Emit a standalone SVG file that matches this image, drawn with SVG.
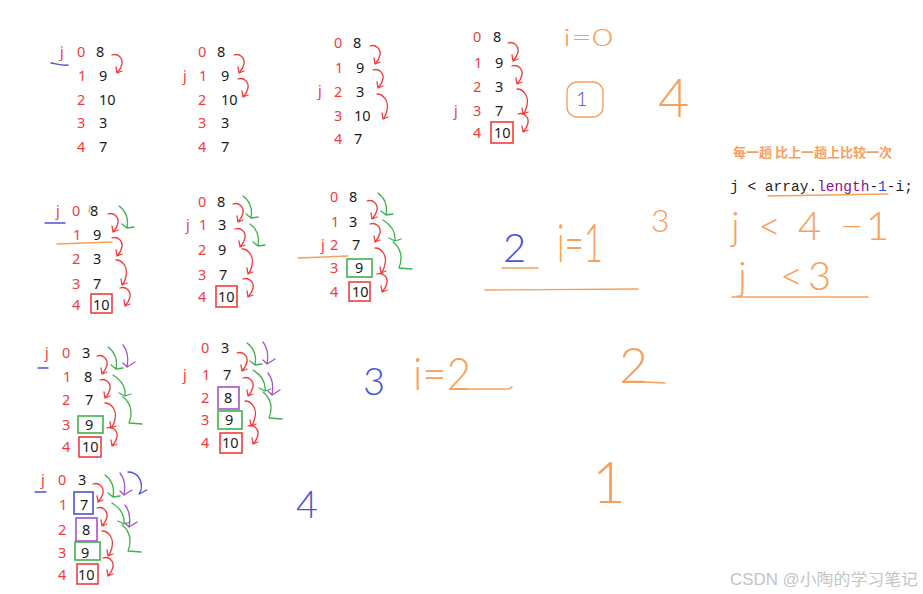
<svg xmlns="http://www.w3.org/2000/svg" xmlns:xlink="http://www.w3.org/1999/xlink" width="923" height="594" viewBox="0 0 923 594">
<style>
.i{font-family:"Noto Sans","Open Sans",sans-serif;font-size:14.5px;fill:#f03c3c}
.v{font-family:"Noto Sans","Open Sans",sans-serif;font-size:14.5px;fill:#1a1a1a}
.a{fill:none;stroke-width:1.3;stroke-linecap:round;stroke-linejoin:round}
.red{stroke:#f03c3c}.grn{stroke:#3db24c}.pur{stroke:#a552c8}.blu{stroke:#4b52d6}.org{stroke:#f8a05a}
.bx{fill:none;stroke-width:1.6}
.hw{font-family:Lato,"Noto Sans",sans-serif;font-weight:300;fill:#f8a05a}
.hb{font-family:Lato,"Noto Sans",sans-serif;font-weight:300;fill:#4b52d6}
.ln{fill:none;stroke-width:1.4;stroke-linecap:round}
</style>
<defs>
<path id="r" d="M0,0 C6,-2 11,3 10,9 C9,14 7,16 5,18 M5,18 L4,12 M5,18 L10,16"/>
<path id="r2" d="M0,0 C7,0 12,8 10,16 C9,21 8,23 6,25 M6,25 L5,19 M6,25 L11,23"/>
<path id="g" d="M0,0 C6,4 10,12 8,22 M8,22 L3,18 M8,22 L15,21"/>
<path id="G" d="M0,0 C8,5 13,12 12,21 M12,21 L6,18 M12,21 L18,19 M10,22 C18,28 20,38 16,48 L29,49"/>
<path id="p" d="M0,0 C4,5 6,12 4,22 M4,22 L0,18 M4,22 L12,17"/>
<path id="b" d="M0,0 C9,0 15,8 13,18 L11,22 M11,22 L19,18"/>
</defs>

<g id="blockA">
<text class="i" x="60" y="57">j</text>
<text class="i" x="77" y="57">0</text><text class="v" x="96" y="57">8</text>
<text class="i" x="78" y="81">1</text><text class="v" x="99" y="81">9</text>
<text class="i" x="77" y="105">2</text><text class="v" x="99" y="105">10</text>
<text class="i" x="77" y="128">3</text><text class="v" x="99" y="128">3</text>
<text class="i" x="77" y="152">4</text><text class="v" x="99" y="152">7</text>
<path class="ln blu" d="M51,63 C57,64 63,66 68,65"/>
</g>
<g id="blockB">
<text class="i" x="183" y="81">j</text>
<text class="i" x="198" y="57">0</text><text class="v" x="217" y="57">8</text>
<text class="i" x="199" y="81">1</text><text class="v" x="221" y="81">9</text>
<text class="i" x="198" y="105">2</text><text class="v" x="221" y="105">10</text>
<text class="i" x="198" y="128">3</text><text class="v" x="221" y="128">3</text>
<text class="i" x="198" y="152">4</text><text class="v" x="221" y="152">7</text>
</g>
<g id="blockC">
<text class="i" x="318" y="96">j</text>
<text class="i" x="334" y="48">0</text><text class="v" x="353" y="48">8</text>
<text class="i" x="335" y="73">1</text><text class="v" x="356" y="73">9</text>
<text class="i" x="334" y="97">2</text><text class="v" x="356" y="97">3</text>
<text class="i" x="334" y="121">3</text><text class="v" x="354" y="121">10</text>
<text class="i" x="334" y="144">4</text><text class="v" x="354" y="144">7</text>
</g>
<g id="blockD">
<text class="i" x="454" y="116">j</text>
<text class="i" x="473" y="42">0</text><text class="v" x="493" y="42">8</text>
<text class="i" x="474" y="68">1</text><text class="v" x="495" y="68">9</text>
<text class="i" x="473" y="92">2</text><text class="v" x="495" y="92">3</text>
<text class="i" x="473" y="116">3</text><text class="v" x="495" y="116">7</text>
<text class="i" x="473" y="138">4</text><text class="v" x="494" y="138">10</text>
<rect class="bx red" x="491" y="122" width="22" height="21"/>
</g>

<g id="blockE">
<text class="i" x="56" y="216">j</text>
<text class="i" x="72" y="216">0</text><text class="v" x="90" y="216">8</text>
<text class="i" x="73" y="240">1</text><text class="v" x="93" y="240">9</text>
<text class="i" x="72" y="264">2</text><text class="v" x="93" y="264">3</text>
<text class="i" x="72" y="289">3</text><text class="v" x="93" y="289">7</text>
<text class="i" x="72" y="310">4</text><text class="v" x="93" y="310">10</text>
<rect class="bx red" x="91" y="294" width="21" height="19"/>
<path class="ln blu" d="M45,223 L65,223"/>
<path class="ln org" d="M57,244 L112,242"/>
<path class="ln org" d="M90,206 L89,212"/>
</g>
<g id="blockF">
<text class="i" x="186" y="230">j</text>
<text class="i" x="198" y="207">0</text><text class="v" x="217" y="207">8</text>
<text class="i" x="199" y="230">1</text><text class="v" x="218" y="230">3</text>
<text class="i" x="198" y="255">2</text><text class="v" x="218" y="255">9</text>
<text class="i" x="198" y="280">3</text><text class="v" x="219" y="280">7</text>
<text class="i" x="198" y="302">4</text><text class="v" x="218" y="302">10</text>
<rect class="bx red" x="216" y="286" width="21" height="21"/>
</g>
<g id="blockG">
<text class="i" x="330" y="202">0</text><text class="v" x="349" y="202">8</text>
<text class="i" x="331" y="227">1</text><text class="v" x="349" y="227">3</text>
<text class="i" x="321" y="250">j</text><text class="i" x="330" y="250">2</text><text class="v" x="352" y="250">7</text>
<text class="i" x="330" y="273">3</text><text class="v" x="355" y="273">9</text>
<text class="i" x="330" y="297">4</text><text class="v" x="352" y="297">10</text>
<rect class="bx grn" x="347" y="259" width="25" height="18"/>
<rect class="bx red" x="349" y="282" width="21" height="19"/>
<path class="ln org" d="M298,258 L348,256"/>
</g>

<g id="blockH">
<text class="i" x="45" y="358">j</text>
<text class="i" x="62" y="358">0</text><text class="v" x="82" y="358">3</text>
<text class="i" x="63" y="382">1</text><text class="v" x="84" y="382">8</text>
<text class="i" x="62" y="405">2</text><text class="v" x="85" y="405">7</text>
<text class="i" x="62" y="430">3</text><text class="v" x="85" y="430">9</text>
<text class="i" x="62" y="452">4</text><text class="v" x="82" y="452">10</text>
<rect class="bx grn" x="78" y="416" width="25" height="17"/>
<rect class="bx red" x="79" y="437" width="22" height="20"/>
<path class="ln blu" d="M38,368 L48,368"/>
</g>
<g id="blockI">
<text class="i" x="183" y="380">j</text>
<text class="i" x="201" y="353">0</text><text class="v" x="221" y="353">3</text>
<text class="i" x="202" y="380">1</text><text class="v" x="223" y="380">7</text>
<text class="i" x="201" y="403">2</text><text class="v" x="224" y="403">8</text>
<text class="i" x="201" y="425">3</text><text class="v" x="225" y="425">9</text>
<text class="i" x="201" y="448">4</text><text class="v" x="222" y="448">10</text>
<rect class="bx pur" x="218" y="387" width="21" height="22"/>
<rect class="bx grn" x="218" y="411" width="24" height="18"/>
<rect class="bx red" x="220" y="433" width="22" height="20"/>
</g>
<g id="blockJ">
<text class="i" x="41" y="485">j</text>
<text class="i" x="58" y="485">0</text><text class="v" x="78" y="485">3</text>
<text class="i" x="59" y="510">1</text><text class="v" x="80" y="510">7</text>
<text class="i" x="58" y="535">2</text><text class="v" x="82" y="535">8</text>
<text class="i" x="58" y="558">3</text><text class="v" x="81" y="558">9</text>
<text class="i" x="58" y="580">4</text><text class="v" x="78" y="580">10</text>
<rect class="bx blu" x="74" y="492" width="19" height="22"/>
<rect class="bx pur" x="76" y="518" width="21" height="23"/>
<rect class="bx grn" x="75" y="542" width="25" height="18"/>
<rect class="bx red" x="77" y="564" width="21" height="20"/>
<path class="ln blu" d="M35,492 L46,492"/>
</g>

<g id="connectors">
<use href="#r" class="a red" x="112" y="55"/>
<use href="#r" class="a red" x="234" y="55"/>
<use href="#r" class="a red" x="238" y="79"/>
<use href="#r" class="a red" x="370" y="46"/>
<use href="#r" class="a red" x="373" y="70"/>
<use href="#r2" class="a red" x="377" y="94"/>
<use href="#r" class="a red" x="508" y="43"/>
<use href="#r" class="a red" x="512" y="66"/>
<use href="#r2" class="a red" x="517" y="89"/>
<use href="#r" class="a red" x="518" y="114"/>

<use href="#r" class="a red" x="108" y="214"/>
<use href="#r" class="a red" x="112" y="238"/>
<use href="#r2" class="a red" x="116" y="260"/>
<use href="#r" class="a red" x="120" y="288"/>
<use href="#g" class="a grn" x="119" y="206"/>

<use href="#r" class="a red" x="233" y="204"/>
<use href="#r" class="a red" x="235" y="229"/>
<use href="#r2" class="a red" x="242" y="249"/>
<use href="#r" class="a red" x="243" y="279"/>
<use href="#g" class="a grn" x="243" y="196"/>
<use href="#g" class="a grn" x="250" y="224"/>

<use href="#r" class="a red" x="367" y="201"/>
<use href="#r" class="a red" x="370" y="224"/>
<use href="#r2" class="a red" x="375" y="248"/>
<use href="#r" class="a red" x="377" y="274"/>
<use href="#g" class="a grn" x="378" y="193"/>
<use href="#G" class="a grn" x="383" y="220"/>

<use href="#r" class="a red" x="97" y="356"/>
<use href="#r" class="a red" x="100" y="380"/>
<use href="#r2" class="a red" x="105" y="403"/>
<use href="#r" class="a red" x="107" y="428"/>
<use href="#g" class="a grn" x="108" y="347"/>
<use href="#G" class="a grn" x="113" y="375"/>
<use href="#p" class="a pur" x="123" y="345"/>

<use href="#r" class="a red" x="237" y="353"/>
<use href="#r" class="a red" x="243" y="378"/>
<use href="#r2" class="a red" x="245" y="401"/>
<use href="#r" class="a red" x="248" y="426"/>
<use href="#g" class="a grn" x="247" y="343"/>
<use href="#G" class="a grn" x="253" y="370"/>
<use href="#p" class="a pur" x="263" y="342"/>
<use href="#p" class="a pur" x="268" y="373"/>

<use href="#r" class="a red" x="93" y="484"/>
<use href="#r" class="a red" x="97" y="508"/>
<use href="#r2" class="a red" x="102" y="531"/>
<use href="#r" class="a red" x="103" y="558"/>
<use href="#g" class="a grn" x="105" y="475"/>
<use href="#G" class="a grn" x="112" y="503"/>
<use href="#p" class="a pur" x="120" y="473"/>
<use href="#p" class="a pur" x="125" y="505"/>
<use href="#b" class="a blu" x="128" y="472"/>
</g>

<g id="notes">
<text class="hw" x="563" y="46" font-size="24" textLength="50" lengthAdjust="spacingAndGlyphs">i=0</text>
<rect x="567" y="82" width="36" height="35" rx="10" class="ln org"/>
<text class="hb" x="576" y="106" font-size="20">1</text>
<text class="hw" x="658" y="117" font-size="54">4</text>

<text class="hb" x="503" y="262" font-size="40">2</text>
<path class="ln org" d="M502,268 L538,268"/>
<text class="hw" x="557" y="262" font-size="54" textLength="46" lengthAdjust="spacingAndGlyphs">i=1</text>
<text class="hw" x="651" y="232" font-size="32">3</text>
<path class="ln org" d="M485,290 L638,289"/>

<text class="hb" x="363" y="395" font-size="38">3</text>
<text class="hw" x="413" y="390" font-size="46" textLength="58" lengthAdjust="spacingAndGlyphs">i=2</text>
<path class="ln org" d="M464,389 L508,389 C510,389 511,388 512,387"/>
<text class="hw" x="619" y="383" font-size="50">2</text>
<path class="ln org" d="M644,382 L665,383"/>
<text class="hw" x="592" y="503" font-size="58">1</text>
<text class="hb" x="296" y="518" font-size="38">4</text>

<text x="733" y="157" font-family="'Noto Sans CJK SC','Noto Sans',sans-serif" font-size="13" font-weight="bold" fill="#f5a060">每一趟 比上一趟上比较一次</text>
<text x="730" y="191" font-family="'Liberation Mono','DejaVu Sans Mono',monospace" font-size="14.5" fill="#1f1f1f" textLength="183" lengthAdjust="spacingAndGlyphs">j &lt; array.<tspan fill="#871094">length</tspan>-<tspan fill="#1750eb">1</tspan>-i;</text>
<path class="ln org" d="M768,196 C810,195 850,195 888,194"/>
<text class="hw" font-size="40" y="240"><tspan x="731">j</tspan><tspan x="758">&lt;</tspan><tspan x="798">4</tspan><tspan x="840">−</tspan><tspan x="866">1</tspan></text>
<text class="hw" font-size="40" y="290"><tspan x="738">j</tspan><tspan x="780">&lt;</tspan><tspan x="808">3</tspan></text>
<path class="ln org" d="M732,297 L868,297"/>
</g>

<text x="730" y="585" font-family="'Liberation Sans','Noto Sans CJK SC',sans-serif" font-size="16" fill="#c4c4c4" textLength="188" lengthAdjust="spacingAndGlyphs">CSDN @小陶的学习笔记</text>
</svg>
